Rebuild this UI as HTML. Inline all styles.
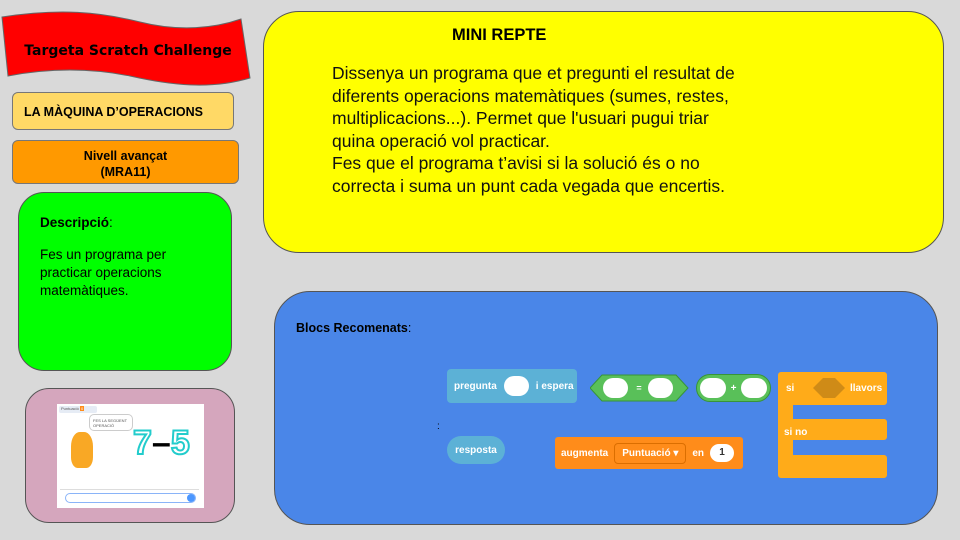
<!DOCTYPE html>
<html><head><meta charset="utf-8"><style>
body{margin:0;width:960px;height:540px;background:#d9d9d9;position:relative;overflow:hidden;font-family:"Liberation Sans",Arial,sans-serif;}
.a{position:absolute;box-sizing:border-box;}
.bl{position:absolute;color:#fff;font-size:10px;font-weight:bold;display:flex;align-items:center;box-sizing:border-box;}
.oval{background:#fff;border-radius:12px;display:inline-block;}
</style></head><body>
<svg class="a" style="left:0;top:0" width="260" height="95">
<path d="M2,17 C60,8 100,12 140,22 C180,32 215,28 241,19 L250,78 C210,90 170,85 130,76 C90,68 50,68 8,76 Z" fill="#ff0000" stroke="#666" stroke-width="1"/>
<text x="128" y="55" text-anchor="middle" font-family="DejaVu Sans, sans-serif" font-size="14" font-weight="bold" fill="#000">Targeta Scratch Challenge</text>
</svg>
<div class="a" style="left:12px;top:92px;width:222px;height:38px;background:#ffd966;border:1px solid #777;border-radius:6px;font-weight:bold;font-size:12.5px;padding:12px 0 0 11px;">LA MÀQUINA D’OPERACIONS</div>
<div class="a" style="left:12px;top:140px;width:227px;height:44px;background:#ff9900;border:1px solid #777;border-radius:6px;font-weight:bold;font-size:12.5px;text-align:center;padding-top:7px;line-height:16px;">Nivell avançat<br>(MRA11)</div>
<div class="a" style="left:18px;top:192px;width:214px;height:179px;background:#00ff00;border:1px solid #555;border-radius:26px;font-size:13.5px;padding:22px 0 0 21px;"><b>Descripció</b>:<div style="margin-top:16px;line-height:18px;">Fes un programa per<br>practicar operacions<br>matemàtiques.</div></div>
<div class="a" style="left:25px;top:388px;width:210px;height:135px;background:#d5a6bd;border:1px solid #555;border-radius:24px;"></div>
<div class="a" style="left:57px;top:404px;width:147px;height:104px;background:#fff;">
 <div class="a" style="left:2px;top:2px;width:38px;height:7px;background:#e6ecf5;border-radius:2px;font-size:4px;color:#555;padding-left:2px">Puntuació <span style="background:#ff8c1a;color:#fff">&nbsp;0&nbsp;</span></div>
 <div class="a" style="left:32px;top:10px;width:44px;height:17px;border:1px solid #ccc;border-radius:5px;font-size:4px;color:#555;padding:3px">FES LA SEGÜENT OPERACIÓ</div>
 <div class="a" style="left:14px;top:28px;width:22px;height:36px;background:#f9a825;border-radius:40% 40% 30% 30%;"></div>
 <div class="a" style="left:76px;top:20px;font-size:34px;font-weight:bold;color:#fff;-webkit-text-stroke:2px #2cc;">7<span style="color:#000;-webkit-text-stroke:0">–</span>5</div>
 <div class="a" style="left:3px;top:85px;width:139px;height:17px;border-top:1px solid #ddd;"></div>
 <div class="a" style="left:8px;top:89px;width:131px;height:10px;border:1px solid #8ab4f8;border-radius:6px;"></div>
 <div class="a" style="left:130px;top:90px;width:8px;height:8px;background:#4c97ff;border-radius:50%;"></div>
</div>
<div class="a" style="left:263px;top:11px;width:681px;height:242px;background:#ffff00;border:1px solid #555;border-radius:36px;"></div>
<div class="a" style="left:452px;top:26px;font-weight:bold;font-size:16.5px;">MINI REPTE</div>
<div class="a" style="left:332px;top:62px;font-size:17.5px;line-height:22.6px;color:#111;">Dissenya un programa que et pregunti el resultat de<br>diferents operacions matemàtiques (sumes, restes,<br>multiplicacions...). Permet que l'usuari pugui triar<br>quina operació vol practicar.<br>Fes que el programa t’avisi si la solució és o no<br>correcta i suma un punt cada vegada que encertis.</div>
<div class="a" style="left:274px;top:291px;width:664px;height:234px;background:#4a86e8;border:1px solid #555;border-radius:36px;"></div>
<div class="a" style="left:296px;top:321px;font-size:12.5px;"><b>Blocs Recomenats</b>:</div>
<div class="a" style="left:437px;top:421px;font-size:10px;">:</div>
<div class="bl" style="left:447px;top:369px;width:130px;height:34px;background:#5cb1d6;border-radius:4px;padding-left:7px;gap:7px;">pregunta <span class="oval" style="width:25px;height:20px"></span> i espera</div>
<svg class="a" style="left:590px;top:374px" width="100" height="28"><polygon points="12,1 86,1 98,14 86,27 12,27 0,14" fill="#59c059" stroke="#389438"/><rect x="13" y="4" width="25" height="20" rx="10" fill="#fff"/><text x="49" y="17" fill="#fff" font-size="9" text-anchor="middle" font-weight="bold">=</text><rect x="58" y="4" width="25" height="20" rx="10" fill="#fff"/></svg>
<div class="bl" style="left:696px;top:374px;width:75px;height:28px;background:#59c059;border:1px solid #389438;border-radius:14px;padding:0 3px;justify-content:space-between;"><span class="oval" style="width:26px;height:20px"></span>+<span class="oval" style="width:26px;height:20px"></span></div>
<div class="bl" style="left:447px;top:436px;width:58px;height:28px;background:#5cb1d6;border-radius:14px;justify-content:center;">resposta</div>
<div class="bl" style="left:555px;top:437px;width:188px;height:32px;background:#ff8c1a;border-radius:3px;padding-left:6px;gap:6px;">augmenta <span style="border:1px solid #db6e00;border-radius:4px;padding:4px 7px;">Puntuació ▾</span> en <span class="oval" style="width:24px;height:18px;color:#333;text-align:center;line-height:18px">1</span></div>
<svg class="a" style="left:778px;top:371px" width="112" height="110"><path d="M3,1 H106 a3,3 0 0 1 3,3 V31 a3,3 0 0 1 -3,3 H15 V48 H106 a3,3 0 0 1 3,3 V66 a3,3 0 0 1 -3,3 H15 V84 H106 a3,3 0 0 1 3,3 V104 a3,3 0 0 1 -3,3 H3 a3,3 0 0 1 -3,-3 V4 a3,3 0 0 1 3,-3Z" fill="#ffab19"/><polygon points="35,17 45,7 57,7 67,17 57,27 45,27" fill="#cf8b17"/><text x="8" y="20" fill="#fff" font-size="10" font-weight="bold" font-family="Liberation Sans">si</text><text x="72" y="20" fill="#fff" font-size="10" font-weight="bold" font-family="Liberation Sans">llavors</text><text x="6" y="64" fill="#fff" font-size="10" font-weight="bold" font-family="Liberation Sans">si no</text></svg>
</body></html>
